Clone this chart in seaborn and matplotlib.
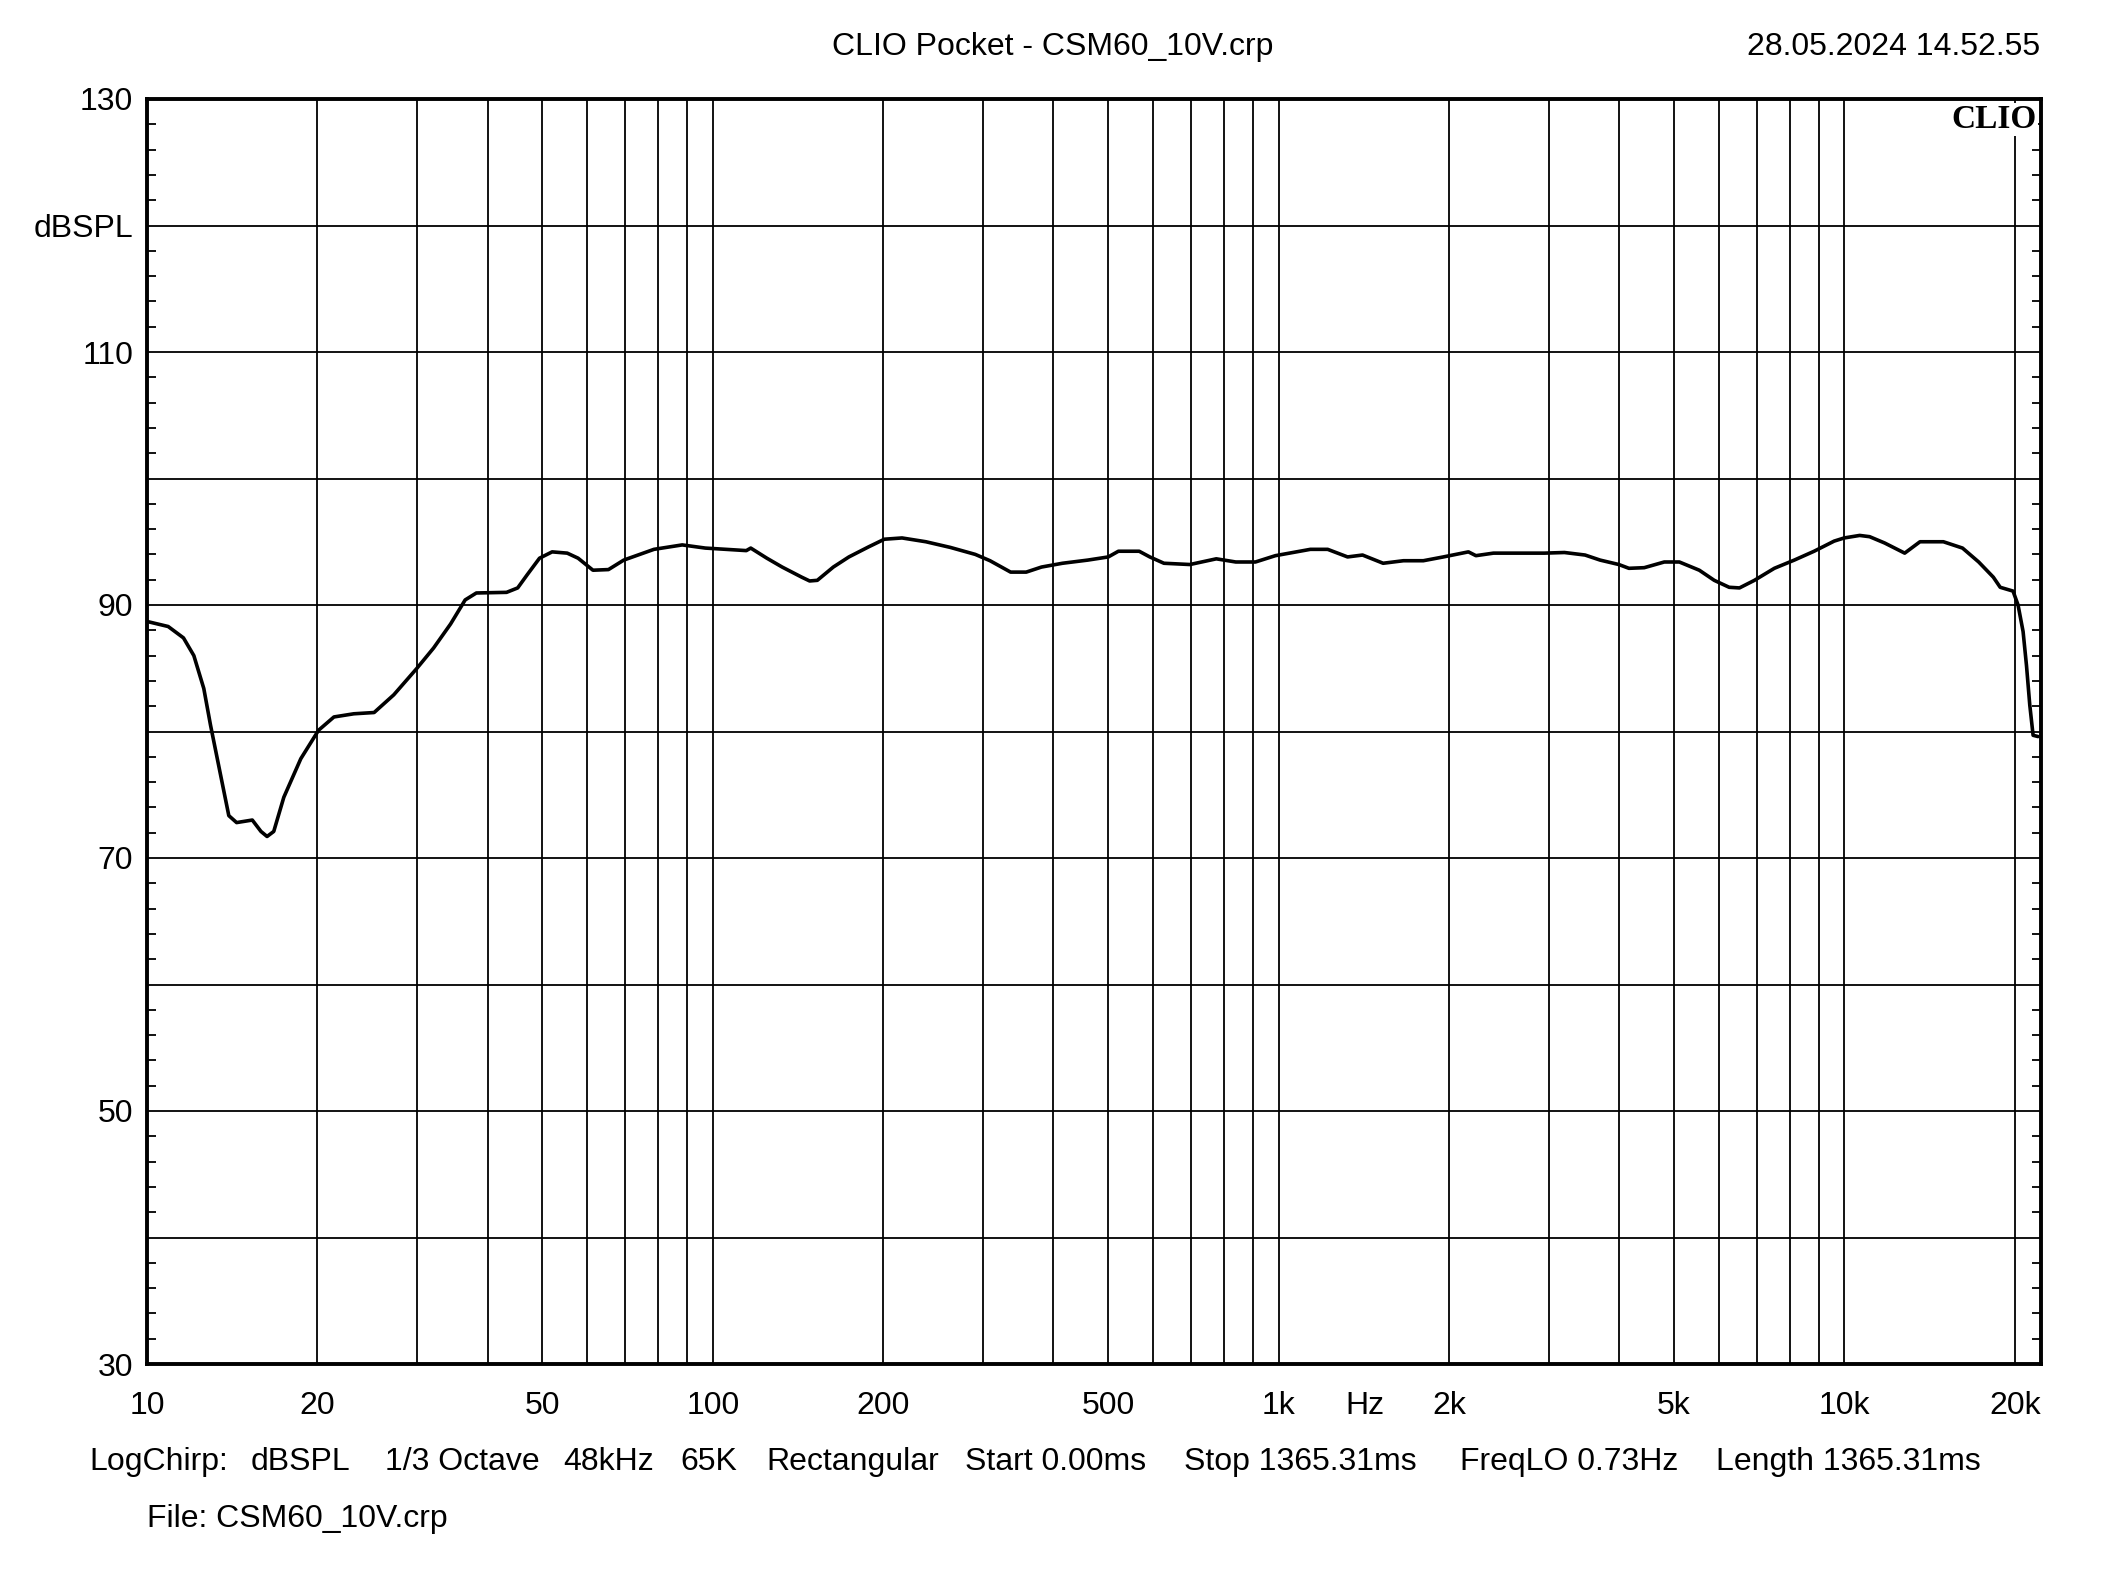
import matplotlib
matplotlib.use("Agg")
import matplotlib.pyplot as plt
import seaborn as sns
from matplotlib.ticker import FixedLocator, FixedFormatter, NullFormatter, MultipleLocator

# Frequency response
freq = [10, 10.9, 11.6, 12.1, 12.6, 12.95, 13.5, 13.95, 14.4, 15.35, 15.9, 16.3, 16.75,
        17.45, 18.7, 20.1, 21.4, 23.2, 25.2, 27.3, 30, 32.1, 34.4, 36.5, 38.2, 43.2, 45.2,
        47, 49.4, 52, 55.3, 57.8, 61.4, 65.4, 69.6, 78.7, 88.3, 97, 105.5, 114.6, 116.7,
        124.6, 132.6, 143.6, 148.3, 153, 163.3, 174, 188.6, 201, 216, 238, 263, 291, 309,
        336, 358, 381, 415, 460, 500, 521, 567, 592, 627, 697, 776, 840, 910, 987, 1138,
        1221, 1324, 1407, 1530, 1662, 1802, 1955, 2165, 2232, 2397, 2950, 3200, 3480, 3700,
        3993, 4160, 4428, 4804, 5108, 5540, 5887, 6256, 6524, 6933, 7518, 8154, 8840, 9590,
        9990, 10640, 11080, 11780, 12780, 13600, 14960, 16170, 17270, 18330, 18850, 19860,
        20270, 20690, 20980, 21260, 21550, 21990]
spl = [88.7, 88.3, 87.4, 86.0, 83.4, 80.5, 76.5, 73.35, 72.8, 73.0, 72.1, 71.7, 72.1,
       74.8, 77.85, 80.1, 81.15, 81.4, 81.5, 82.9, 85.0, 86.6, 88.5, 90.4, 90.95, 91.0, 91.35,
       92.4, 93.7, 94.2, 94.1, 93.7, 92.75, 92.8, 93.55, 94.4, 94.75, 94.5, 94.4, 94.3, 94.5,
       93.7, 93.0, 92.2, 91.9, 91.95, 93.0, 93.8, 94.6, 95.2, 95.3, 95.0, 94.55, 94.0, 93.5,
       92.6, 92.6, 93.0, 93.3, 93.55, 93.8, 94.25, 94.25, 93.8, 93.3, 93.2, 93.65, 93.4, 93.4,
       93.9, 94.4, 94.4, 93.8, 93.95, 93.3, 93.5, 93.5, 93.8, 94.2, 93.9, 94.1, 94.1, 94.15,
       93.95, 93.55, 93.2, 92.9, 92.95, 93.4, 93.4, 92.75, 91.95, 91.4, 91.35, 91.95, 92.9,
       93.55, 94.25, 95.05, 95.3, 95.5, 95.4, 94.9, 94.1, 95.0, 95.0, 94.5, 93.4, 92.2, 91.4,
       91.1, 90.0, 87.9, 85.2, 82.1, 79.7, 79.6]

# Axis ticks and labels
grid_freqs = [20, 30, 40, 50, 60, 70, 80, 90, 100, 200, 300, 400, 500, 600, 700, 800, 900,
              1000, 2000, 3000, 4000, 5000, 6000, 7000, 8000, 9000, 10000, 20000]
xlabel_pos = [10, 20, 50, 100, 200, 500, 1000, 1420, 2000, 5000, 10000, 20000]
xlabel_txt = ["10", "20", "50", "100", "200", "500", "1k", "Hz", "2k", "5k", "10k", "20k"]
ytick_pos = [30, 40, 50, 60, 70, 80, 90, 100, 110, 120, 130]
ytick_txt = ["30", "", "50", "", "70", "", "90", "", "110", "dBSPL", "130"]

info_items = ["LogChirp:", "dBSPL", "1/3 Octave", "48kHz", "65K", "Rectangular",
              "Start 0.00ms", "Stop 1365.31ms", "FreqLO 0.73Hz", "Length 1365.31ms"]
info_x_px = [89, 251, 385, 563, 680, 766, 965, 1184, 1460, 1716]

sns.set_theme(style="white")
plt.rcParams["font.family"] = ["Liberation Sans", "DejaVu Sans"]

W, H = 2108, 1573
fig = plt.figure(figsize=(W / 100, H / 100), dpi=100)
ax = fig.add_axes([147 / W, 1 - 1364 / H, (2041.5 - 147) / W, (1364 - 99) / H])

ax.set_xscale("log")
sns.lineplot(x=freq, y=spl, ax=ax, color="black", linewidth=2.6, zorder=4)
ax.set_xlim(10, 22300)
ax.set_ylim(30, 130)

ax.xaxis.remove_overlapping_locs = False
ax.xaxis.set_major_locator(FixedLocator(xlabel_pos))
ax.xaxis.set_major_formatter(FixedFormatter(xlabel_txt))
ax.xaxis.set_minor_locator(FixedLocator(grid_freqs))
ax.xaxis.set_minor_formatter(NullFormatter())
ax.yaxis.set_major_locator(FixedLocator(ytick_pos))
ax.yaxis.set_major_formatter(FixedFormatter(ytick_txt))
ax.yaxis.set_minor_locator(MultipleLocator(2))

ax.grid(False)
ax.grid(which="minor", axis="x", color="black", linewidth=1.3)
ax.grid(which="major", axis="y", color="black", linewidth=1.3)

ax.tick_params(axis="x", which="both", length=0, pad=19.5, labelsize=23, colors="black")
ax.tick_params(axis="y", which="major", length=0, pad=10, labelsize=23, colors="black")
ax.tick_params(axis="y", which="minor", length=6.5, width=1.3, direction="in",
               left=True, right=True, color="black")
ax.set_xlabel("")
ax.set_ylabel("")

for s in ax.spines.values():
    s.set_color("black")
    s.set_linewidth(2.8)
    s.set_zorder(6)

ax.text(0.9976, 0.9771, "CLIO", transform=ax.transAxes, ha="right", va="baseline",
        fontfamily="Liberation Serif", fontweight="bold", fontsize=24, color="black",
        bbox=dict(facecolor="white", edgecolor="none", pad=1), zorder=5)

fig.text(1053 / W, 1 - 55 / H, "CLIO Pocket - CSM60_10V.crp", ha="center", va="baseline",
         fontsize=23, color="black")
fig.text(2040 / W, 1 - 55 / H, "28.05.2024 14.52.55", ha="right", va="baseline",
         fontsize=23, color="black")

for txt, xp in zip(info_items, info_x_px):
    fig.text(xp / W, 1 - 1470 / H, txt, ha="left", va="baseline", fontsize=23, color="black")
fig.text(147 / W, 1 - 1527 / H, "File: CSM60_10V.crp", ha="left", va="baseline",
         fontsize=23, color="black")

fig.savefig("out.png", dpi=100, facecolor="white")
